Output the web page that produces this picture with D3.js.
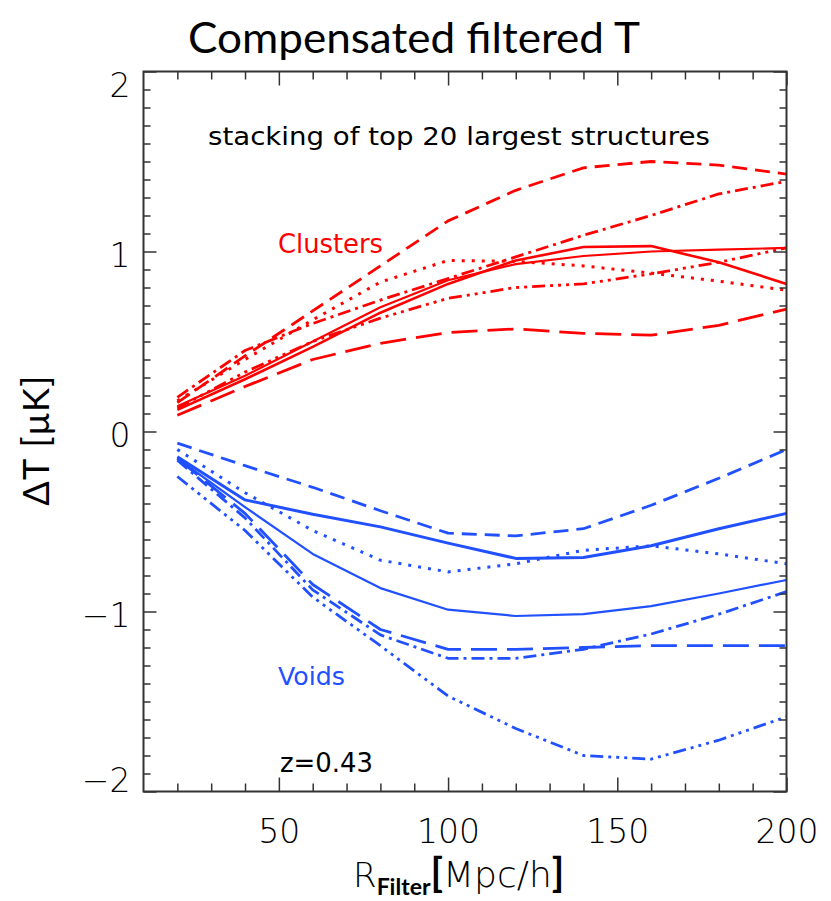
<!DOCTYPE html>
<html>
<head>
<meta charset="utf-8">
<script src="https://cdn.jsdelivr.net/npm/d3@7"></script>
<style>
  body { margin: 0; background: #fff; }
  svg { display: block; }
</style>
</head>
<body>
<div id="chart"></div>
<script>
// constants and globals
const width = 831,
  height = 901,
  margin = { top: 71.5, right: 44.5, bottom: 109.5, left: 143.5 };

// data: filter radius (Mpc/h) and ΔT (μK) for each stacked curve
const radii = [20, 40, 60, 80, 100, 120, 140, 160, 180, 200];

const clustersSolidA = [0.12, 0.29, 0.47, 0.66, 0.82, 0.95, 1.025, 1.03, 0.94, 0.82];
const clustersSolidB = [0.14, 0.31, 0.50, 0.69, 0.84, 0.93, 0.975, 1.00, 1.01, 1.02];
const clustersDashed = [0.16, 0.42, 0.67, 0.92, 1.17, 1.34, 1.465, 1.50, 1.48, 1.43];
const clustersDashDot = [0.19, 0.45, 0.60, 0.73, 0.85, 0.97, 1.09, 1.20, 1.32, 1.39];
const clustersDotted = [0.17, 0.40, 0.62, 0.83, 0.95, 0.945, 0.92, 0.88, 0.835, 0.785];
const clustersDash3Dot = [0.13, 0.33, 0.50, 0.63, 0.74, 0.80, 0.82, 0.876, 0.94, 1.02];
const clustersLongDash = [0.09, 0.25, 0.40, 0.49, 0.55, 0.57, 0.545, 0.535, 0.59, 0.68];

const voidsDashed = [-0.065, -0.19, -0.31, -0.44, -0.565, -0.58, -0.54, -0.41, -0.26, -0.10];
const voidsSolidThick = [-0.14, -0.38, -0.46, -0.53, -0.62, -0.705, -0.70, -0.635, -0.54, -0.455];
const voidsDotted = [-0.10, -0.34, -0.55, -0.715, -0.78, -0.735, -0.66, -0.635, -0.68, -0.735];
const voidsSolidThin = [-0.15, -0.42, -0.68, -0.87, -0.99, -1.025, -1.015, -0.97, -0.90, -0.825];
const voidsLongDash = [-0.15, -0.455, -0.85, -1.10, -1.21, -1.21, -1.20, -1.19, -1.19, -1.19];
const voidsDashDot = [-0.16, -0.48, -0.88, -1.13, -1.26, -1.26, -1.21, -1.125, -1.015, -0.89];
const voidsDash3Dot = [-0.25, -0.55, -0.92, -1.19, -1.47, -1.65, -1.80, -1.82, -1.715, -1.585];

const xMajorTicks = [50, 100, 150, 200];
const yMajorTicks = [-2, -1, 0, 1, 2];

// line styles (IDL linestyles)
const dashes = {
  solid: null,
  dashed: "15 8",
  dotted: "3 7",
  dashDot: "13 5 3 5",
  dash3Dot: "13 5 3 5 3 5 3 5",
  longDash: "26 10"
};

const red = "#ff0000",
  blue = "#2050ff";

const series = [
  { values: clustersLongDash, color: red, dash: "longDash", w: 2.8 },
  { values: clustersDash3Dot, color: red, dash: "dash3Dot", w: 2.8 },
  { values: clustersDotted, color: red, dash: "dotted", w: 3 },
  { values: clustersDashDot, color: red, dash: "dashDot", w: 2.8 },
  { values: clustersDashed, color: red, dash: "dashed", w: 2.8 },
  { values: clustersSolidB, color: red, dash: "solid", w: 2.2 },
  { values: clustersSolidA, color: red, dash: "solid", w: 2.6 },
  { values: voidsDash3Dot, color: blue, dash: "dash3Dot", w: 2.8 },
  { values: voidsDashDot, color: blue, dash: "dashDot", w: 2.8 },
  { values: voidsLongDash, color: blue, dash: "longDash", w: 2.8 },
  { values: voidsSolidThin, color: blue, dash: "solid", w: 2.2 },
  { values: voidsDotted, color: blue, dash: "dotted", w: 3 },
  { values: voidsSolidThick, color: blue, dash: "solid", w: 3 },
  { values: voidsDashed, color: blue, dash: "dashed", w: 2.8 }
];

const hershey = "'DejaVu Sans', sans-serif";
const calibri = "Lato, 'Open Sans', sans-serif";

const svg = d3.select("#chart")
  .append("svg")
  .attr("width", width)
  .attr("height", height);

const x = d3.scaleLinear()
  .domain([10, 200])
  .range([margin.left, width - margin.right]);

const y = d3.scaleLinear()
  .domain([-2, 2])
  .range([height - margin.bottom, margin.top]);

const x0 = margin.left, x1 = width - margin.right;
const y0 = margin.top, y1 = height - margin.bottom;

// lines
const line = d3.line()
  .x((d, i) => x(radii[i]))
  .y(d => y(d));

svg.append("g")
  .selectAll("path")
  .data(series)
  .join("path")
  .attr("d", d => line(d.values))
  .attr("fill", "none")
  .attr("stroke", d => d.color)
  .attr("stroke-width", d => d.w)
  .attr("stroke-dasharray", d => dashes[d.dash])
  .attr("stroke-linejoin", "round");

// axes, ticks pointing inward
const minorX = d3.range(20, 200, 10).filter(v => !xMajorTicks.includes(v));
const minorY = d3.range(-19, 20).map(v => v / 10).filter(v => !yMajorTicks.includes(v));

function tickAxis(axisFn, scale, values, size, pos, withLabels) {
  const a = axisFn(scale).tickValues(values).tickSizeInner(-size).tickSizeOuter(0);
  if (!withLabels) a.tickFormat("");
  const g = svg.append("g").attr("transform", pos).call(a);
  g.select(".domain").remove();
  g.selectAll(".tick line").attr("stroke", "#333").attr("stroke-width", 1.5);
  return g;
}

tickAxis(d3.axisBottom, x, minorX, 8, `translate(0,${y1})`, false);
tickAxis(d3.axisTop, x, minorX, 8, `translate(0,${y0})`, false);
tickAxis(d3.axisTop, x, xMajorTicks, 14, `translate(0,${y0})`, false);
tickAxis(d3.axisLeft, y, minorY, 7, `translate(${x0},0)`, false);
tickAxis(d3.axisRight, y, minorY, 7, `translate(${x1},0)`, false);
tickAxis(d3.axisRight, y, yMajorTicks, 13, `translate(${x1},0)`, false);

const xAxis = tickAxis(d3.axisBottom, x, xMajorTicks, 14, `translate(0,${y1})`, true);
xAxis.selectAll(".tick text")
  .attr("y", 51)
  .attr("dy", null)
  .attr("font-family", hershey)
  .attr("font-weight", 300)
  .attr("font-size", 33)
  .attr("fill", "#000");

const yAxis = tickAxis(d3.axisLeft, y, yMajorTicks, 13, `translate(${x0},0)`, true);
yAxis.selectAll(".tick text")
  .attr("x", -13)
  .attr("dy", d => d === 2 ? 25 : d === -2 ? 0 : 15)
  .attr("font-family", hershey)
  .attr("font-weight", 300)
  .attr("font-size", 33)
  .attr("fill", "#000")
  .text(d => d < 0 ? "\u2212" + Math.abs(d) : d);

// frame
svg.append("rect")
  .attr("x", x0)
  .attr("y", y0)
  .attr("width", x1 - x0)
  .attr("height", y1 - y0)
  .attr("fill", "none")
  .attr("stroke", "#333")
  .attr("stroke-width", 2);

// annotations
svg.append("text")
  .attr("x", 208).attr("y", 145)
  .attr("font-family", hershey)
  .attr("font-size", 25)
  .attr("textLength", 502)
  .attr("lengthAdjust", "spacingAndGlyphs")
  .attr("fill", "#000")
  .text("stacking of top 20 largest structures");

svg.append("text")
  .attr("x", 278).attr("y", 253)
  .attr("font-family", hershey)
  .attr("font-size", 26)
  .attr("textLength", 105)
  .attr("lengthAdjust", "spacingAndGlyphs")
  .attr("fill", red)
  .text("Clusters");

svg.append("text")
  .attr("x", 278).attr("y", 685)
  .attr("font-family", hershey)
  .attr("font-size", 25)
  .attr("textLength", 67)
  .attr("lengthAdjust", "spacingAndGlyphs")
  .attr("fill", blue)
  .text("Voids");

svg.append("text")
  .attr("x", 280).attr("y", 772)
  .attr("font-family", hershey)
  .attr("font-size", 27)
  .attr("textLength", 93)
  .attr("lengthAdjust", "spacingAndGlyphs")
  .attr("fill", "#000")
  .text("z=0.43");

// title
svg.append("text")
  .attr("x", 414).attr("y", 53)
  .attr("text-anchor", "middle")
  .attr("font-family", calibri)
  .attr("font-size", 42)
  .attr("textLength", 452)
  .attr("lengthAdjust", "spacingAndGlyphs")
  .attr("fill", "#000")
  .text("Compensated filtered T");

// x label: R_Filter[Mpc/h]
const xl = svg.append("text")
  .attr("x", 353).attr("y", 887)
  .attr("fill", "#000");
xl.append("tspan")
  .attr("font-family", hershey).attr("font-weight", 300).attr("font-size", 34)
  .text("R");
xl.append("tspan")
  .attr("dy", 8)
  .attr("font-family", calibri).attr("font-weight", 700).attr("font-size", 23)
  .text("Filter");
xl.append("tspan")
  .attr("dy", -8)
  .attr("font-family", calibri).attr("font-weight", 700).attr("font-size", 40)
  .text("[");
xl.append("tspan")
  .attr("font-family", hershey).attr("font-weight", 300).attr("font-size", 36)
  .text("Mpc/h");
xl.append("tspan")
  .attr("font-family", calibri).attr("font-weight", 700).attr("font-size", 40)
  .text("]");

// y label
svg.append("text")
  .attr("transform", "translate(49,440) rotate(-90)")
  .attr("text-anchor", "middle")
  .attr("font-family", calibri)
  .attr("font-size", 36)
  .attr("letter-spacing", 1.5)
  .attr("fill", "#000")
  .text("\u0394T [\u03bcK]");
</script>
</body>
</html>
